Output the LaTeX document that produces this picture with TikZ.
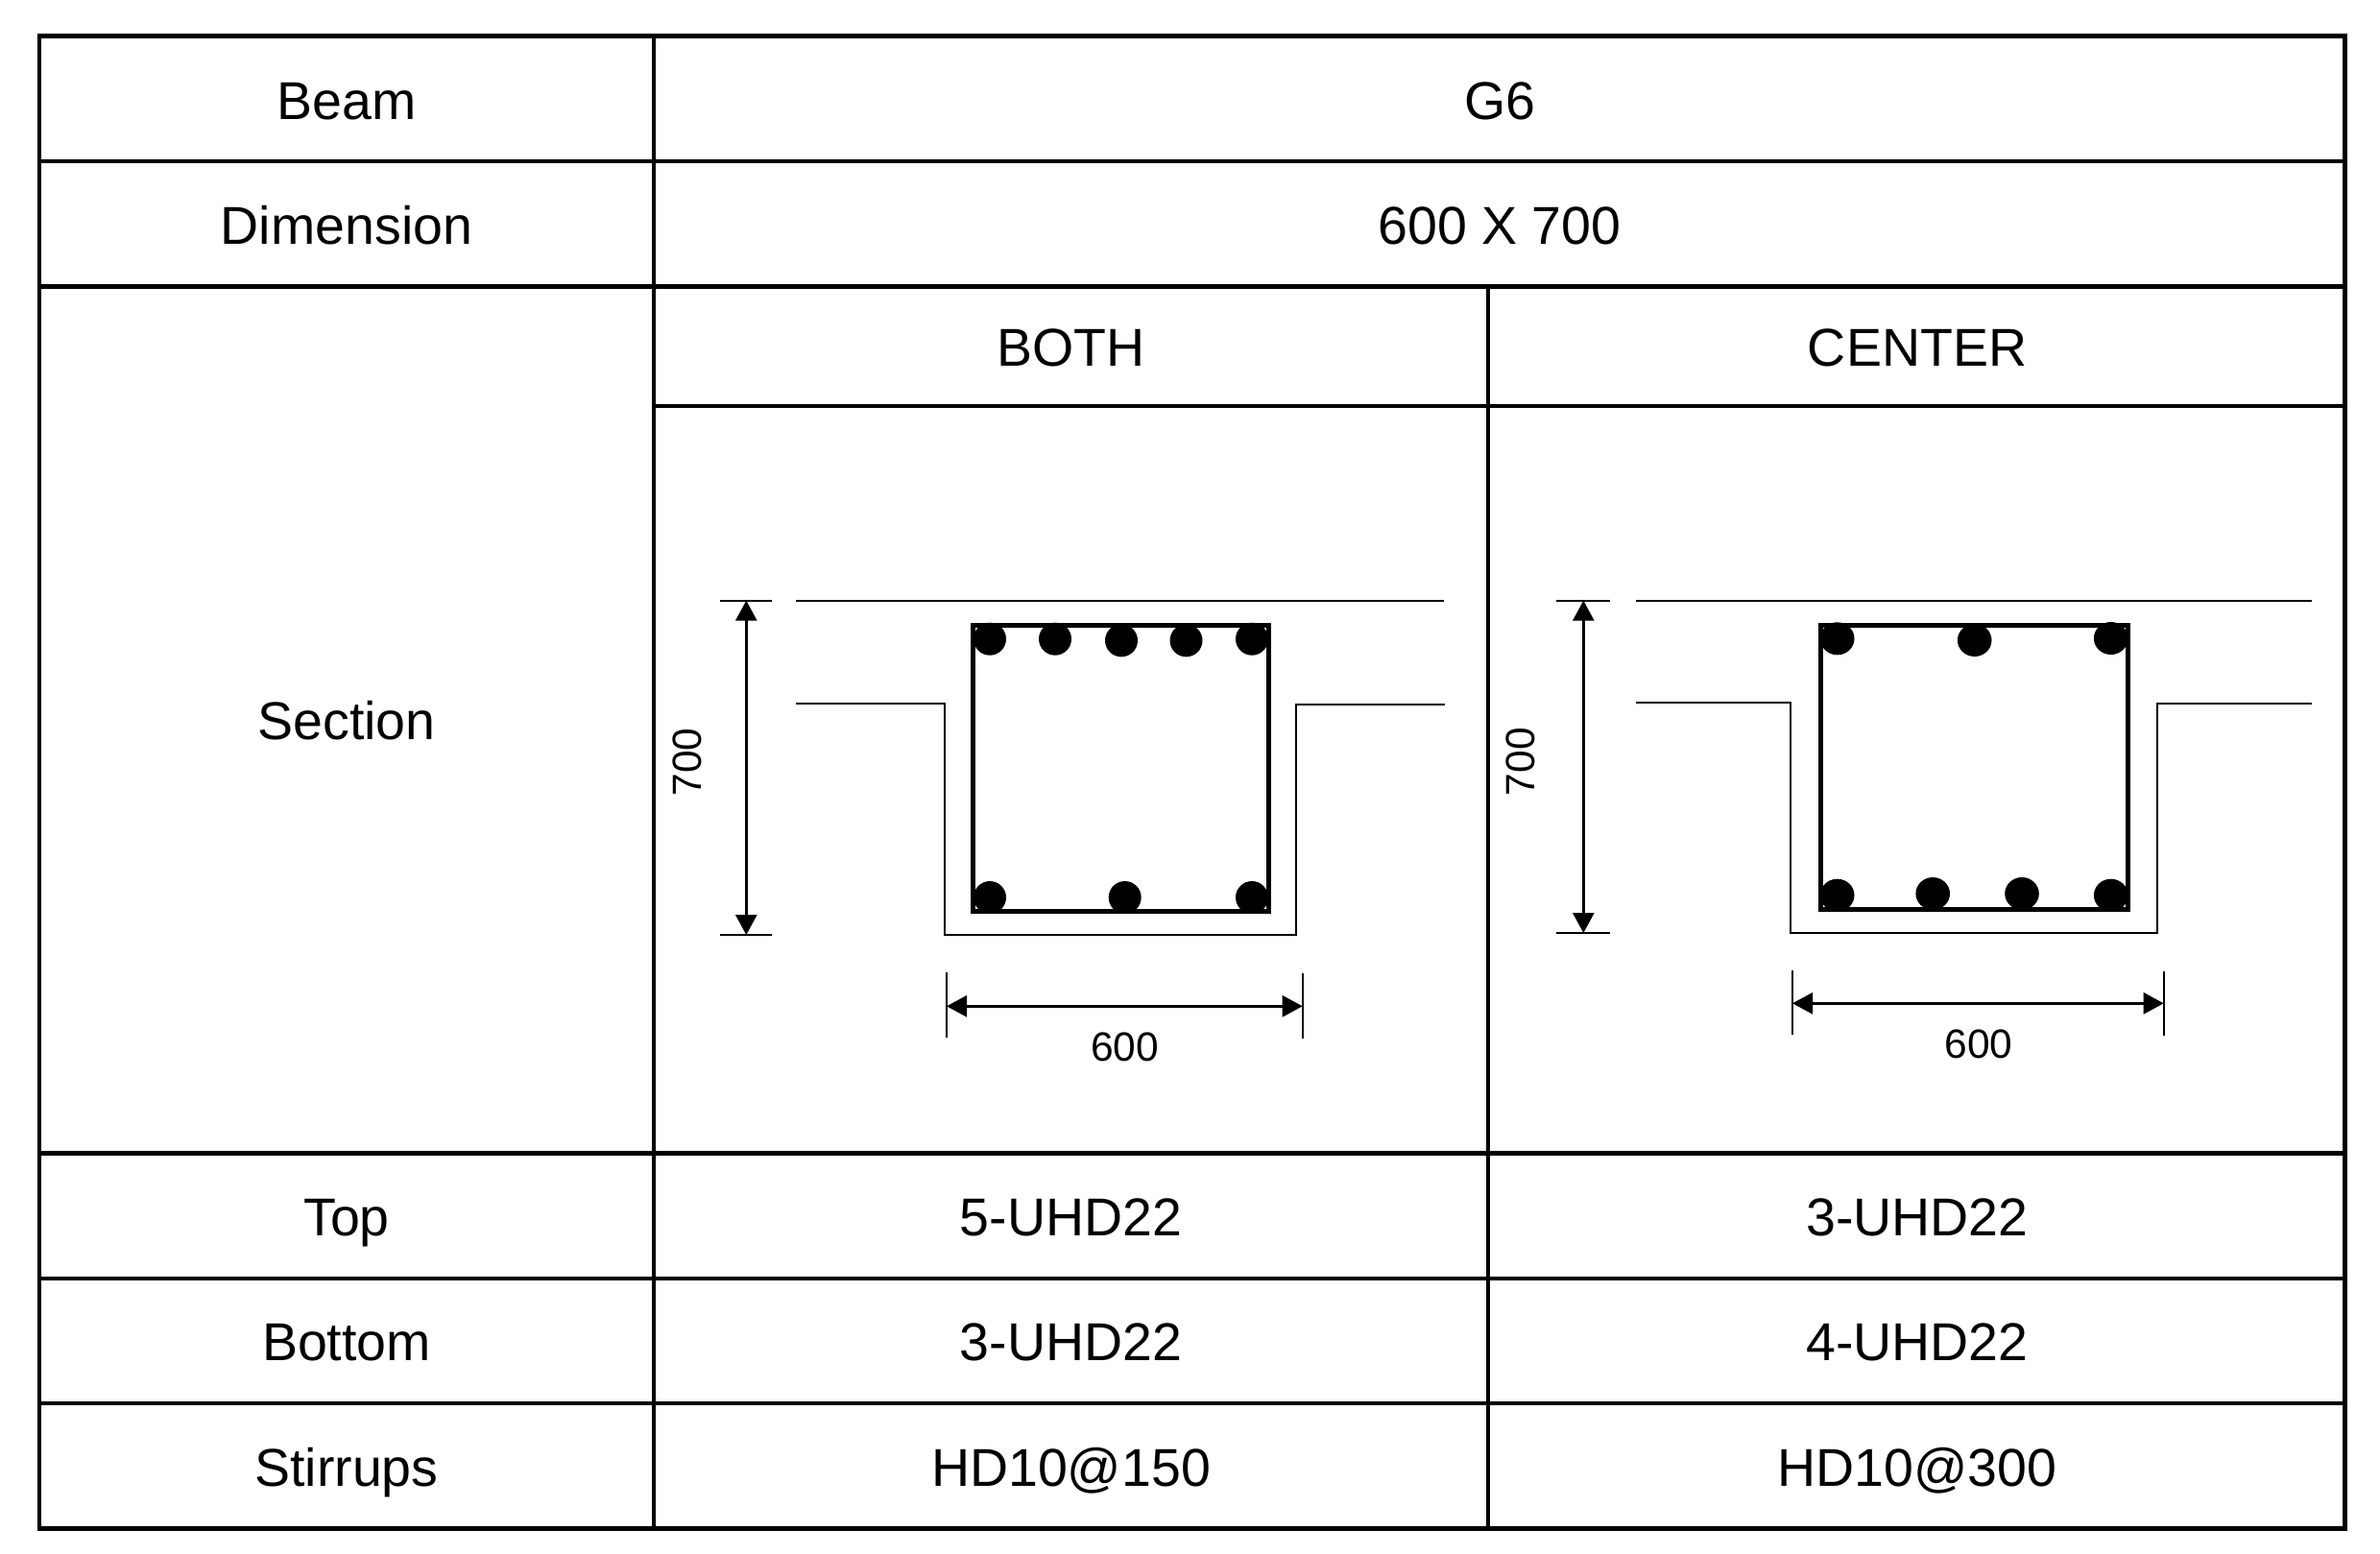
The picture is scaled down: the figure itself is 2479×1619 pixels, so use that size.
\documentclass[tikz,border=0pt]{standalone}
\usepackage{fontspec}
\setmainfont{Liberation Sans}
\usetikzlibrary{arrows.meta, positioning}

\begin{document}
\begin{tikzpicture}[x=0.4pt, y=-0.4pt,
    cell/.style={anchor=base, inner sep=0pt, font=\fontsize{22.2}{26}\selectfont},
    dimtext/.style={inner sep=0pt, font=\fontsize{17}{20}\selectfont},
    grid/.style={line width=1.8pt},
    outline/.style={line width=0.8pt},
    stirrup/.style={line width=1.95pt, miter limit=10},
    dimline/.style={line width=1.1pt, {Triangle[length=8.4pt, width=8.8pt]}-{Triangle[length=8.4pt, width=8.8pt]}}
]
\useasboundingbox (0,0) rectangle (2479,1619);

% Table grid
\draw[grid] (41,37.5) rectangle (2442.7,1592.3);
\foreach \y in {168,298.5,1201.3,1332,1462} {
    \draw[grid] (41,\y) -- (2442.7,\y);
}
\draw[grid] (681,423) -- (2442.7,423);
\draw[grid] (681,37.5) -- (681,1592.3);
\draw[grid] (1550,298.5) -- (1550,1592.3);

% Row labels
\foreach \name/\txt/\y in {beam/Beam/124, dimen/Dimension/254, section/Section/770.5, top/Top/1287.3, bottom/Bottom/1417, stirrups/Stirrups/1548} {
    \node[cell] (\name) at (361,\y) {\txt};
}
\node[cell] (g6) at (1562,124) {G6};
\node[cell] (size) at (1562,254) {600 X 700};
\node[cell] (both) at (1115.5,381) {BOTH};
\node[cell] (center) at (1997,381) {CENTER};
\node[cell] (topBoth) at (1115.5,1287.3) {5-UHD22};
\node[cell] (topCenter) at (1997,1287.3) {3-UHD22};
\node[cell] (botBoth) at (1115.5,1417) {3-UHD22};
\node[cell] (botCenter) at (1997,1417) {4-UHD22};
\node[cell] (stirBoth) at (1115.5,1548) {HD10@150};
\node[cell] (stirCenter) at (1997,1548) {HD10@300};

% BOTH section
\draw[outline] (829,625.7) -- (1504,625.7);
\draw[outline] (829,733) -- (984,733) -- (984,974) -- (1350,974) -- (1350,734) -- (1505,734);
\draw[stirrup] (1013.5,651.5) rectangle (1321.5,949.5);
\foreach \x/\y in {1031/665.7,1099/665.7,1168/667.3,1235.5/667.3,1304/665.7,1031/935,1171.7/935,1304/935} {
    \fill (\x,\y) circle[radius=17];
}
% BOTH dimensions
\coordinate (bothTop) at (777.3,625.7);
\coordinate (bothBot) at (777.3,974);
\coordinate (bothLeft) at (986,1048.3);
\coordinate (bothRight) at (1356.7,1048.3);
\draw[outline] (750,625.7) -- (804,625.7);
\draw[outline] (750,974) -- (804,974);
\draw[outline] (986,1013) -- (986,1080.7);
\draw[outline] (1356.7,1014) -- (1356.7,1082);
\draw[dimline] (bothTop) -- (bothBot);
\draw[dimline] (bothLeft) -- (bothRight);
\node[dimtext, rotate=90] (bothH) at (715.5,794) {700};
\node[dimtext, anchor=base] (bothW) at (1171.7,1105) {600};

% CENTER section
\draw[outline] (1704,625.7) -- (2408,625.7);
\draw[outline] (1704,732) -- (1865,732) -- (1865,972) -- (2247,972) -- (2247,733) -- (2408,733);
\draw[stirrup] (1896.5,651.5) rectangle (2216.5,947.5);
\foreach \x/\y in {1913.7/665.3,2056.7/667,2198.7/665,1913.7/932.7,2013.2/931,2106/931,2198.7/932.7} {
    \fill (\x,\y) ellipse[x radius=17.8, y radius=17];
}
% CENTER dimensions
\coordinate (centerTop) at (1649.3,625.7);
\coordinate (centerBot) at (1649.3,972);
\coordinate (centerLeft) at (1867,1045.3);
\coordinate (centerRight) at (2253.7,1045.3);
\draw[outline] (1621,625.7) -- (1677,625.7);
\draw[outline] (1621,972) -- (1677,972);
\draw[outline] (1867,1011) -- (1867,1077.7);
\draw[outline] (2253.7,1012) -- (2253.7,1078.7);
\draw[dimline] (centerTop) -- (centerBot);
\draw[dimline] (centerLeft) -- (centerRight);
\node[dimtext, rotate=90] (centerH) at (1584,793.7) {700};
\node[dimtext, anchor=base] (centerW) at (2061,1102.7) {600};
\end{tikzpicture}
\end{document}
